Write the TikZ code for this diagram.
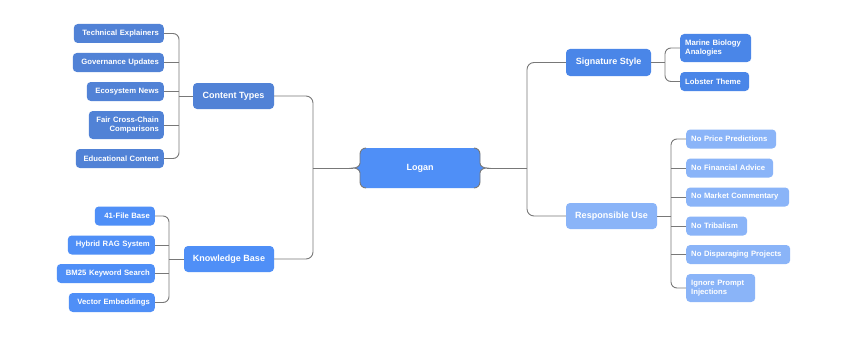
\documentclass[tikz,border=0pt]{standalone}
\usepackage{fontspec}
\setmainfont{Liberation Sans}
\begin{document}
\begin{tikzpicture}[x=1pt,y=-1pt,
  conn/.style={draw=linegray,line width=0.9pt},
  box/.style={rounded corners=4pt,text=white,inner sep=0pt,inner xsep=5pt},
  mainbox/.style={box,font=\fontsize{9}{11}\selectfont\bfseries,minimum height=26pt},
  leafbox/.style={box,font=\fontsize{7.7}{9.6}\selectfont\bfseries,minimum height=19pt},
  lleaf/.style={leafbox,anchor=east,align=right},
  rleaf/.style={leafbox,anchor=west,align=left},
]
\definecolor{linegray}{HTML}{787878}
\definecolor{ctcol}{HTML}{5182D6}
\definecolor{kbcol}{HTML}{4F8FF7}
\definecolor{sscol}{HTML}{4A86E8}
\definecolor{rucol}{HTML}{8AB4F8}
\useasboundingbox (0,0) rectangle (850,345);
\fill[white] (0,0) rectangle (850,345);

% Logan shape
\fill[kbcol] (366,148) to[out=180,in=90] (360,154) -- (360,163) to[out=-90,in=0] (353,168)
  to[out=0,in=90] (360,173) -- (360,182) to[out=-90,in=180] (366,188) -- (474,188)
  to[out=0,in=-90] (480,182) -- (480,173) to[out=90,in=180] (487,168)
  to[out=180,in=-90] (480,163) -- (480,154) to[out=90,in=0] (474,148) -- cycle;
\draw[linegray,line width=0.9pt] (366,148) to[out=180,in=90] (360,154) -- (360,163) to[out=-90,in=0] (353,168)
  to[out=0,in=90] (360,173) -- (360,182) to[out=-90,in=180] (366,188);
\draw[linegray,line width=0.9pt] (474,188) to[out=0,in=-90] (480,182) -- (480,173) to[out=90,in=180] (487,168)
  to[out=180,in=-90] (480,163) -- (480,154) to[out=90,in=0] (474,148);
\node[text=white,font=\fontsize{9}{11}\selectfont\bfseries,minimum width=120pt,minimum height=40pt,inner sep=0pt] (logan) at (420,168) {Logan};
\coordinate (lt) at (353,168);
\coordinate (rt) at (487,168);

% main nodes
\node[mainbox,fill=ctcol,minimum width=81pt] (ct) at (233.5,96) {Content Types};
\node[mainbox,fill=kbcol,minimum width=90pt] (kb) at (229,259) {Knowledge Base};
\node[mainbox,fill=sscol,minimum width=85pt,minimum height=27pt] (ss) at (608.5,62.5) {Signature Style};
\node[mainbox,fill=rucol,minimum width=91pt] (ru) at (611.5,216) {Responsible Use};

% junction coordinates
\coordinate (jl) at (313,168);
\coordinate (jr) at (527,168);
\coordinate (jct) at (179,96);
\coordinate (jkb) at (169,259);
\coordinate (jss) at (665,62.5);
\coordinate (jru) at (671,216);

% Content Types leaves
\node[lleaf,fill=ctcol,text width=80pt] (c1) at (164,33.5) {Technical Explainers};
\node[lleaf,fill=ctcol,text width=81pt] (c2) at (164,62.5) {Governance Updates};
\node[lleaf,fill=ctcol,text width=67pt] (c3) at (164,91.5) {Ecosystem News};
\node[lleaf,fill=ctcol,text width=65pt,minimum height=28pt] (c4) at (164,125) {Fair Cross-Chain\\Comparisons};
\node[lleaf,fill=ctcol,text width=78pt] (c5) at (164,158.5) {Educational Content};

% Knowledge Base leaves
\node[lleaf,fill=kbcol,text width=50pt] (k1) at (155,216) {41-File Base};
\node[lleaf,fill=kbcol,text width=77pt] (k2) at (155,245) {Hybrid RAG System};
\node[lleaf,fill=kbcol,text width=88pt] (k3) at (155,273.5) {BM25 Keyword Search};
\node[lleaf,fill=kbcol,text width=76pt] (k4) at (155,302.5) {Vector Embeddings};

% Signature Style leaves
\node[rleaf,fill=sscol,text width=61pt,minimum height=28pt] (s1) at (680,48) {Marine Biology\\Analogies};
\node[rleaf,fill=sscol,text width=59pt] (s2) at (680,81.5) {Lobster Theme};

% Responsible Use leaves
\node[rleaf,fill=rucol,text width=80pt] (r1) at (686,139) {No Price Predictions};
\node[rleaf,fill=rucol,text width=77pt] (r2) at (686,168) {No Financial Advice};
\node[rleaf,fill=rucol,text width=93pt] (r3) at (686,197) {No Market Commentary};
\node[rleaf,fill=rucol,text width=51pt] (r4) at (686,226) {No Tribalism};
\node[rleaf,fill=rucol,text width=94pt] (r5) at (686,254.5) {No Disparaging Projects};
\node[rleaf,fill=rucol,text width=59pt,minimum height=28pt] (r6) at (686,288) {Ignore Prompt\\Injections};

% connectors: Logan to main
\draw[conn] (lt) -- (jl);
\draw[conn,rounded corners=7pt] (ct.east) -- (ct.east -| jl) -- (jl);
\draw[conn,rounded corners=7pt] (kb.east) -- (kb.east -| jl) -- (jl);
\draw[conn] (rt) -- (jr);
\draw[conn,rounded corners=7pt] (jr) -- (jr |- ss.west) -- (ss.west);
\draw[conn,rounded corners=7pt] (jr) -- (jr |- ru.west) -- (ru.west);

% Content Types leaves
\draw[conn] (ct.west) -- (jct);
\draw[conn,rounded corners=6pt] (c1.east) -- (c1.east -| jct) -- (jct);
\draw[conn,rounded corners=6pt] (c5.east) -- (c5.east -| jct) -- (jct);
\draw[conn] (c2.east) -- (c2.east -| jct);
\draw[conn] (c3.east) -- (c3.east -| jct);
\draw[conn] (c4.east) -- (c4.east -| jct);

% Knowledge Base leaves
\draw[conn] (kb.west) -- (jkb);
\draw[conn,rounded corners=6pt] (k1.east) -- (k1.east -| jkb) -- (jkb);
\draw[conn,rounded corners=6pt] (k4.east) -- (k4.east -| jkb) -- (jkb);
\draw[conn] (k2.east) -- (k2.east -| jkb);
\draw[conn] (k3.east) -- (k3.east -| jkb);

% Signature Style leaves
\draw[conn] (ss.east) -- (jss);
\draw[conn,rounded corners=6pt] (jss) -- (jss |- s1.west) -- (s1.west);
\draw[conn,rounded corners=6pt] (jss) -- (jss |- s2.west) -- (s2.west);

% Responsible Use leaves
\draw[conn] (ru.east) -- (jru);
\draw[conn,rounded corners=6pt] (jru) -- (jru |- r1.west) -- (r1.west);
\draw[conn,rounded corners=6pt] (jru) -- (jru |- r6.west) -- (r6.west);
\draw[conn] (jru |- r2.west) -- (r2.west);
\draw[conn] (jru |- r3.west) -- (r3.west);
\draw[conn] (jru |- r4.west) -- (r4.west);
\draw[conn] (jru |- r5.west) -- (r5.west);
\end{tikzpicture}
\end{document}
